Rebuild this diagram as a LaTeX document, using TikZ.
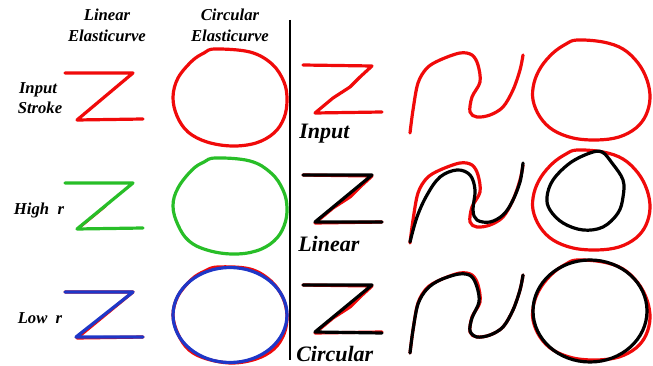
\documentclass[tikz,border=0pt]{standalone}
\usepackage{fontspec}
\setmainfont{Liberation Serif}
\definecolor{sred}{RGB}{240,10,10}
\definecolor{sgreen}{RGB}{40,190,40}
\definecolor{sblue}{RGB}{30,55,200}
\begin{document}
\begin{tikzpicture}[x=0.75pt,y=-0.75pt,
  stroke/.style={line width=2.4pt,line cap=round,line join=round},
  hdr/.style={font=\fontsize{12.5}{15}\selectfont\bfseries\itshape,inner sep=0pt},
  lbl/.style={font=\fontsize{16.5}{19}\selectfont\bfseries\itshape,inner sep=0pt,anchor=west}]
\useasboundingbox (0,0) rectangle (653,366);
% headers
\node[hdr] (h1a) at (107,15) {Linear};
\node[hdr] (h1b) at (107,36) {Elasticurve};
\node[hdr] (h2a) at (230,15) {Circular};
\node[hdr] (h2b) at (230,36) {Elasticurve};
\node[hdr] (l1a) at (38,90) {Input};
\node[hdr] (l1b) at (40,108) {Stroke};
\node[hdr] (l2) at (39,210) {High\ \ r};
\node[hdr] (l3) at (40,318) {Low\ \ r};
% divider
\draw[line width=1.5pt] (290,20) -- (290,360);
% ---------- left panel ----------
% row 1 input
\draw[stroke,sred] (65,73) -- (133,73) -- (77,120) -- (143,119);
\draw[stroke,sred] plot[smooth cycle,tension=0.6] coordinates {(215,49) (250,52) (272,64) (284,82) (287,100) (284,118) (274,133) (256,143) (232,146) (207,142) (188,132) (177,116) (173,97) (178,78) (192,61) (204,53)};
% row 2 high r
\draw[stroke,sred,line width=1.6pt] (78,229) -- (106,206);
\draw[stroke,sgreen] (65,183) -- (133,183) -- (77,229) -- (143,228);
\draw[stroke,sgreen] plot[smooth cycle,tension=0.65] coordinates {(216,158) (250,161) (271,173) (283,190) (287,208) (284,226) (274,241) (256,251) (232,254) (207,250) (189,241) (178,225) (173,206) (178,188) (192,170) (204,162)};
% row 3 low r
\draw[stroke,sred] (65,292) -- (133,292) -- (77,338) -- (143,337);
\draw[stroke,sred] plot[smooth cycle,tension=0.6] coordinates {(218,267) (250,269) (271,281) (283,298) (287,316) (284,334) (274,349) (256,359) (232,363) (207,359) (189,350) (178,334) (173,315) (178,296) (192,279) (205,271)};
\draw[stroke,sblue] (65,292) -- (133,292) -- (76,337) -- (143,337);
\draw[stroke,sblue] (230,315) ellipse [x radius=57,y radius=47.5];
% ---------- right panel ----------
\node[lbl] (r1) at (299,134) {Input};
\node[lbl] (r2) at (298,244) {Linear};
\node[lbl] (r3) at (296,354) {Circular};
% row 1
\draw[stroke,sred] (303,65) -- (372,66) -- (360,77) -- (350,87) -- (333,98) -- (315,113) -- (382,112);
\draw[stroke,sred] plot[smooth,tension=0.55] coordinates {(410,133) (413,110) (418,83) (427,68) (440,60) (460,53) (472,55) (478,65) (480,82) (472,97) (470,112) (477,117) (490,115) (503,107) (513,90) (520,70) (523,55)};
\draw[stroke,sred] plot[smooth cycle,tension=0.6] coordinates {(577,40) (603,42) (623,49) (638,63) (647,80) (650,98) (646,115) (636,128) (619,137) (597,140) (573,138) (553,130) (540,117) (533,100) (534,83) (541,67) (553,53) (566,44)};
% row 2 linear
\begin{scope}[yshift=-110*0.75pt]
\draw[stroke,sred] (303,65) -- (372,66) -- (360,77) -- (350,87) -- (333,98) -- (315,113) -- (382,112);
\draw[stroke,sred] plot[smooth,tension=0.55] coordinates {(410,133) (413,110) (418,83) (427,68) (440,60) (460,53) (472,55) (478,65) (480,82) (472,97) (470,112) (477,117) (490,115) (503,107) (513,90) (520,70) (523,55)};
\draw[stroke,sred] plot[smooth cycle,tension=0.6] coordinates {(577,40) (603,42) (623,49) (638,63) (647,80) (650,98) (646,115) (636,128) (619,137) (597,140) (573,138) (553,130) (540,117) (533,100) (534,83) (541,67) (553,53) (566,44)};
\end{scope}
\draw[stroke,black] (303,175) -- (372,175) -- (315,222) -- (382,222);
\draw[stroke,black] plot[smooth,tension=0.6] coordinates {(410,242) (417,217) (427,195) (440,177) (457,170) (470,175) (475,190) (473,210) (477,220) (490,222) (503,215) (512,202) (520,182) (523,163)};
\draw[stroke,black] plot[smooth cycle,tension=0.6] coordinates {(602,152) (612,163) (623,180) (623,197) (618,213) (603,227) (583,230) (563,223) (550,210) (547,197) (553,180) (570,163) (590,153)};
% row 3 circular
\begin{scope}[yshift=-220*0.75pt]
\draw[stroke,sred] (303,65) -- (372,66) -- (360,77) -- (350,87) -- (333,98) -- (315,113) -- (382,112);
\draw[stroke,sred] plot[smooth,tension=0.55] coordinates {(410,133) (413,110) (418,83) (427,68) (440,60) (460,53) (472,55) (478,65) (480,82) (472,97) (470,112) (477,117) (490,115) (503,107) (513,90) (520,70) (523,55)};
\draw[stroke,sred] plot[smooth cycle,tension=0.6] coordinates {(577,40) (603,42) (623,49) (638,63) (647,80) (650,98) (646,115) (636,128) (619,137) (597,140) (573,138) (553,130) (540,117) (533,100) (534,83) (541,67) (553,53) (566,44)};
\end{scope}
\draw[stroke,black] (303,285) -- (372,285) -- (315,332) -- (382,333);
\draw[stroke,black] plot[smooth,tension=0.55] coordinates {(410,353) (413,330) (418,304) (427,289) (440,280) (459,274) (471,276) (477,287) (479,302) (472,318) (470,331) (477,337) (490,335) (503,327) (513,310) (520,290) (523,275)};
\draw[stroke,black] (590,311) ellipse [x radius=57,y radius=51];
\end{tikzpicture}
\end{document}
